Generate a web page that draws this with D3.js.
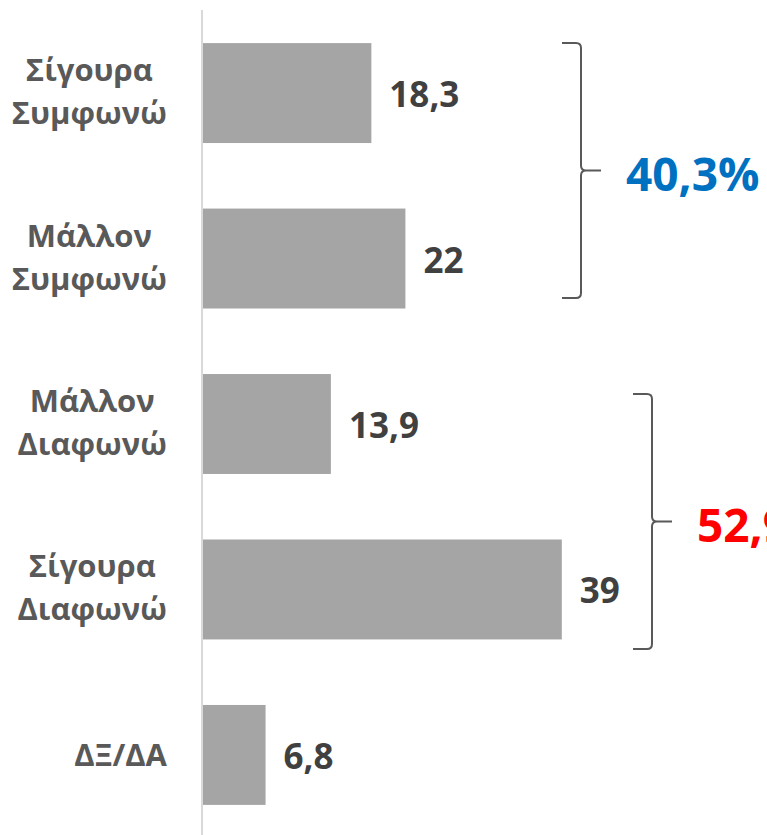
<!DOCTYPE html>
<html>
<head>
<meta charset="utf-8">
<script src="https://cdn.jsdelivr.net/npm/d3@7"></script>
<style>
  body { margin: 0; background: #fff; }
  svg { display: block; }
</style>
</head>
<body>
<div id="chart"></div>
<script>
// data
var categories = [["Σίγουρα", "Συμφωνώ"], ["Μάλλον", "Συμφωνώ"], ["Μάλλον", "Διαφωνώ"], ["Σίγουρα", "Διαφωνώ"], ["ΔΞ/ΔΑ"]];
var values = [18.3, 22, 13.9, 39, 6.8];
var valueLabels = ["18,3", "22", "13,9", "39", "6,8"];
var groupLabels = ["40,3%", "52,9%"];
var groupMembers = [[0, 1], [2, 3]];

var width = 767, height = 835;
var fontFam = "'Open Sans', 'Noto Sans', sans-serif";

var svg = d3.select("#chart")
  .append("svg")
  .attr("width", width)
  .attr("height", height);

var ids = categories.map(function(d, i) { return i; });

var y = d3.scaleBand()
  .domain(ids)
  .range([10, 838])
  .paddingInner(0.396)
  .paddingOuter(0.2);

var x = d3.scaleLinear()
  .domain([0, 45])
  .range([203, 203 + 45 * 9.2]);

// bars
svg.selectAll("rect.bar")
  .data(values)
  .enter()
  .append("rect")
  .attr("class", "bar")
  .attr("x", x(0))
  .attr("y", function(d, i) { return y(i); })
  .attr("width", function(d) { return x(d) - x(0); })
  .attr("height", y.bandwidth())
  .style("fill", "#a5a5a5");

// vertical axis line
svg.append("line")
  .attr("x1", x(0) - 1).attr("x2", x(0) - 1)
  .attr("y1", 10).attr("y2", height)
  .style("stroke", "#d9d9d9")
  .style("stroke-width", 2);

// value labels
svg.selectAll("text.val")
  .data(values)
  .enter()
  .append("text")
  .attr("class", "val")
  .attr("x", function(d) { return x(d) + 18; })
  .attr("y", function(d, i) { return y(i) + y.bandwidth() / 2 + 14; })
  .style("font-family", fontFam)
  .style("font-weight", "bold")
  .style("font-size", "35px")
  .style("fill", "#404040")
  .text(function(d, i) { return valueLabels[i]; });

// category labels, block right-aligned, lines centred
var labelRight = 167;
categories.forEach(function(lines, i) {
  var cy = y(i) + y.bandwidth() / 2;
  var t = svg.append("text")
    .style("font-family", fontFam)
    .style("font-weight", "bold")
    .style("font-size", "31px")
    .style("fill", "#595959")
    .attr("text-anchor", "middle");
  lines.forEach(function(l, j) {
    var base = lines.length === 1 ? cy + 11 : cy - 12 + j * 43;
    t.append("tspan").attr("y", base).text(l);
  });
  var maxW = 0;
  t.selectAll("tspan").each(function() {
    maxW = Math.max(maxW, this.getComputedTextLength());
  });
  t.selectAll("tspan").attr("x", labelRight - maxW / 2);
});

// curly brackets with group totals
var bracketX = [581, 652];
var bracketShift = [0, 20];
var bracketH = 255;
var groupColors = ["#0070c0", "#ff0000"];
groupMembers.forEach(function(m, k) {
  var top = y(m[0]) + bracketShift[k];
  var bot = top + bracketH;
  var mid = (top + bot) / 2;
  var vx = bracketX[k], lx = vx - 19, tx = vx + 20, r = 5;
  var p = d3.path();
  p.moveTo(lx, top);
  p.lineTo(vx - r, top);
  p.quadraticCurveTo(vx, top, vx, top + r);
  p.lineTo(vx, mid - r);
  p.quadraticCurveTo(vx, mid, vx + r, mid);
  p.lineTo(tx, mid);
  p.moveTo(vx + r, mid);
  p.quadraticCurveTo(vx, mid, vx, mid + r);
  p.lineTo(vx, bot - r);
  p.quadraticCurveTo(vx, bot, vx - r, bot);
  p.lineTo(lx, bot);
  svg.append("path")
    .attr("d", p.toString())
    .style("fill", "none")
    .style("stroke", "#595959")
    .style("stroke-width", 2);
  svg.append("text")
    .attr("x", tx + 25)
    .attr("y", mid + 20)
    .style("font-family", fontFam)
    .style("font-weight", "bold")
    .style("font-size", "46px")
    .style("fill", groupColors[k])
    .text(groupLabels[k]);
});
</script>
</body>
</html>
